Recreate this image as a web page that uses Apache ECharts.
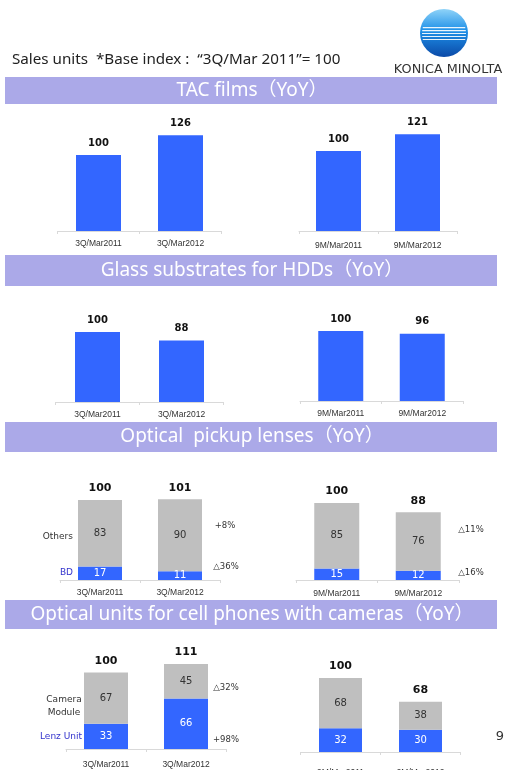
<!DOCTYPE html>
<html>
<head>
<meta charset="utf-8">
<script src="https://cdn.jsdelivr.net/npm/echarts@6/dist/echarts.min.js"></script>
<style>
  html, body { margin: 0; padding: 0; background: #fff; }
  #chart { width: 507px; height: 770px; }
</style>
</head>
<body>
<div id="chart"></div>
<script>
// categories
var cats3Q = ['3Q/Mar2011', '3Q/Mar2012']
var cats9M = ['9M/Mar2011', '9M/Mar2012']

// TAC films
var tac3Q = [100, 126]
var tac9M = [100, 121]

// Glass substrates for HDDs
var glass3Q = [100, 88]
var glass9M = [100, 96]

// Optical pickup lenses
var pickupBD3Q = [17, 11]
var pickupOthers3Q = [83, 90]
var pickupBD9M = [15, 12]
var pickupOthers9M = [85, 76]

// Optical units for cell phones
var lenz3Q = [33, 66]
var camera3Q = [67, 45]
var lenz9M = [32, 30]
var camera9M = [68, 38]

// yoy notes
var pickupYoy3Q = ['+8%', '△36%']
var pickupYoy9M = ['△11%', '△16%']
var cameraYoy3Q = ['△32%', '+98%']

var sectionTitles = [
  'TAC films（YoY）',
  'Glass substrates for HDDs（YoY）',
  'Optical  pickup lenses（YoY）',
  'Optical units for cell phones with cameras（YoY）'
]

var blue = '#3366ff'
var gray = '#bfbfbf'
var bannerColor = '#aba9e8'
var yMax = 140

// grid placement of each small chart
var panels = [
  { left: 57.5, width: 164, axisY: 231, scale: 0.76, margin: 8, cats: cats3Q },
  { left: 299, width: 158, axisY: 231, scale: 0.8, margin: 10, cats: cats9M },
  { left: 55.5, width: 168, axisY: 402, scale: 0.7, margin: 8, cats: cats3Q },
  { left: 300, width: 163, axisY: 401, scale: 0.7, margin: 8, cats: cats9M },
  { left: 60, width: 160, axisY: 580, scale: 0.8, margin: 8, cats: cats3Q },
  { left: 296, width: 163, axisY: 580, scale: 0.77, margin: 9, cats: cats9M },
  { left: 66, width: 160, axisY: 749, scale: 0.765, margin: 11, cats: cats3Q },
  { left: 300.5, width: 160, axisY: 752, scale: 0.74, margin: 16, cats: cats9M }
]

function sum(a, b) {
  return a.map(function (v, i) { return v + b[i] })
}

var myChart = echarts.init(document.getElementById('chart'))

var grids = []
var xAxes = []
var yAxes = []
panels.forEach(function (p, i) {
  var h = p.scale * yMax
  grids.push({ left: p.left, width: p.width, top: p.axisY - h, height: h, outerBoundsMode: 'none' })
  xAxes.push({
    type: 'category',
    gridIndex: i,
    data: p.cats,
    axisLine: { lineStyle: { color: '#d9d9d9', width: 1 } },
    axisTick: { show: true, length: 3, lineStyle: { color: '#d9d9d9' } },
    axisLabel: { fontSize: 8.5, color: '#333', margin: p.margin, fontFamily: 'Liberation Sans' }
  })
  yAxes.push({ type: 'value', gridIndex: i, min: 0, max: yMax, show: false })
})

var series = []

function simpleBar(i, data) {
  series.push({
    type: 'bar',
    xAxisIndex: i,
    yAxisIndex: i,
    data: data,
    barWidth: 45,
    itemStyle: { color: blue },
    label: {
      show: true,
      position: 'top',
      distance: 7,
      fontSize: 10,
      fontWeight: 'bold',
      fontFamily: 'DejaVu Sans',
      color: '#111'
    }
  })
}

function stackBar(i, bottom, top, bw) {
  var common = { type: 'bar', xAxisIndex: i, yAxisIndex: i, barWidth: bw, barGap: '-100%', stack: 's' + i }
  series.push(Object.assign({}, common, {
    data: bottom,
    itemStyle: { color: blue },
    label: { show: true, position: 'inside', fontSize: 10, color: '#fff', fontFamily: 'DejaVu Sans' }
  }))
  series.push(Object.assign({}, common, {
    data: top,
    itemStyle: { color: gray },
    label: { show: true, position: 'inside', fontSize: 10, color: '#333', fontFamily: 'DejaVu Sans' }
  }))
  series.push({
    type: 'bar',
    xAxisIndex: i,
    yAxisIndex: i,
    barWidth: bw,
    barGap: '-100%',
    data: sum(bottom, top),
    itemStyle: { color: 'rgba(0,0,0,0)' },
    z: 1,
    label: {
      show: true,
      position: 'top',
      distance: 6,
      fontSize: 11,
      fontWeight: 'bold',
      fontFamily: 'DejaVu Sans',
      color: '#111'
    }
  })
}

simpleBar(0, tac3Q)
simpleBar(1, tac9M)
simpleBar(2, glass3Q)
simpleBar(3, glass9M)
stackBar(4, pickupBD3Q, pickupOthers3Q, 44)
stackBar(5, pickupBD9M, pickupOthers9M, 45)
stackBar(6, lenz3Q, camera3Q, 44)
stackBar(7, lenz9M, camera9M, 43)

// banners + annotations
var bannerY = [77, 255, 422, 600]
var bannerH = [27, 31, 30, 29]
var graphic = []
bannerY.forEach(function (y, i) {
  graphic.push({
    type: 'rect',
    shape: { x: 5, y: y, width: 492, height: bannerH[i] },
    style: { fill: bannerColor }
  })
  graphic.push({
    type: 'text',
    x: 252,
    y: y + bannerH[i] / 2,
    style: {
      text: sectionTitles[i],
      fill: '#fff',
      font: '19px "Noto Sans", "Noto Sans CJK JP"',
      textAlign: 'center',
      textVerticalAlign: 'middle'
    }
  })
})

function note(text, x, y, align, color, size) {
  graphic.push({
    type: 'text',
    x: x,
    y: y,
    style: {
      text: text,
      fill: color || '#333',
      font: (size || 8.5) + 'px "DejaVu Sans"',
      textAlign: align || 'center',
      textVerticalAlign: 'middle'
    }
  })
}

// header
graphic.push({
  type: 'text',
  x: 12,
  y: 60,
  style: {
    text: 'Sales units  *Base index :  “3Q/Mar 2011”= 100',
    fill: '#222',
    font: '15.2px "Noto Sans"',
    textVerticalAlign: 'middle'
  }
})

// logo sphere
var cx = 444, cy = 33, r = 24
graphic.push({
  type: 'circle',
  shape: { cx: cx, cy: cy, r: r },
  style: {
    fill: new echarts.graphic.LinearGradient(0, 0, 0, 1, [
      { offset: 0, color: '#8fd3f8' },
      { offset: 0.45, color: '#1e90e8' },
      { offset: 1, color: '#0b4aa8' }
    ])
  }
})
;[-6, -3, 0, 3, 6].forEach(function (dy, k) {
  var half = Math.sqrt(r * r - dy * dy) - 2
  graphic.push({
    type: 'rect',
    shape: { x: cx - half, y: cy + dy, width: half * 2, height: 1.3 - k * 0.1 },
    style: { fill: 'rgba(255,255,255,0.9)' }
  })
})
graphic.push({
  type: 'text',
  x: 448,
  y: 70,
  style: {
    text: 'KONICA MINOLTA',
    fill: '#333',
    font: '500 12.8px "DejaVu Sans"',
    textAlign: 'center',
    textVerticalAlign: 'middle'
  }
})

// pickup notes
note('Others', 73, 537, 'right', '#333', 9)
note('BD', 73, 573, 'right', '#3333cc', 9)
note(pickupYoy3Q[0], 225, 526)
note(pickupYoy3Q[1], 226, 567)
note(pickupYoy9M[0], 471, 530)
note(pickupYoy9M[1], 471, 573)

// camera notes
note('Camera', 64, 700, 'center', '#333', 9)
note('Module', 64, 713, 'center', '#333', 9)
note('Lenz Unit', 82, 737, 'right', '#3333cc', 9)
note(cameraYoy3Q[0], 226, 688)
note(cameraYoy3Q[1], 226, 740)

// page number
note('9', 500, 737, 'center', '#333', 13)

var option = {
  backgroundColor: '#fff',
  animation: false,
  grid: grids,
  xAxis: xAxes,
  yAxis: yAxes,
  series: series,
  graphic: graphic
}

myChart.setOption(option)
</script>
</body>
</html>
